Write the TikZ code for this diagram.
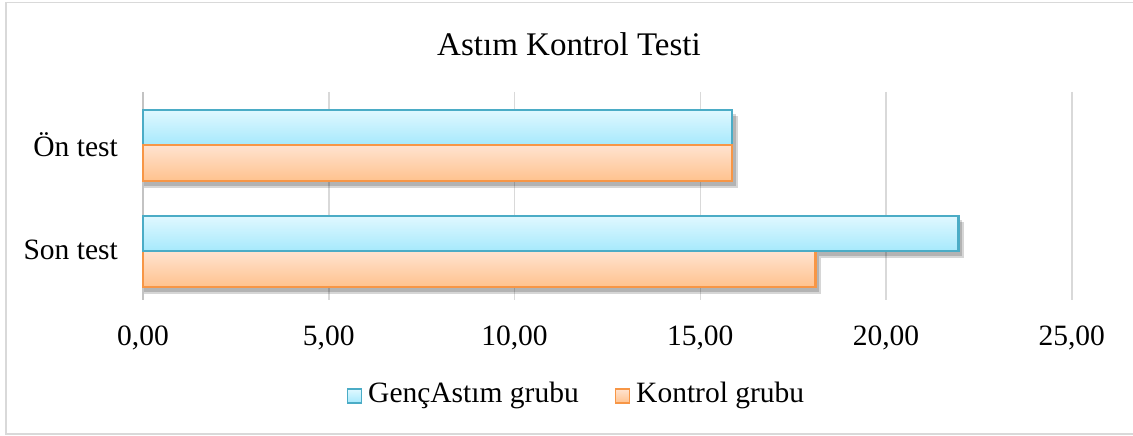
\documentclass[tikz,border=0pt]{standalone}
\usepackage{fontspec}
\setmainfont{Liberation Serif}
\definecolor{cyanedge}{HTML}{4BACC6}
\definecolor{cyantop}{HTML}{E0F8FF}
\definecolor{cyanbot}{HTML}{A6E9FC}
\definecolor{orangeedge}{HTML}{F79646}
\definecolor{orangetop}{HTML}{FFE3D0}
\definecolor{orangebot}{HTML}{FFC28E}
\definecolor{gridgray}{HTML}{D9D9D9}
\tikzset{
  lbl/.style={font=\fontsize{29.5}{34}\selectfont, text=black, inner sep=0pt},
  titlelbl/.style={font=\fontsize{33}{38}\selectfont, text=black, inner sep=0pt},
  gridline/.style={draw=gridgray, line width=1.5pt},
  cyanbar/.style={draw=cyanedge, line width=2.6pt, top color=cyantop, bottom color=cyanbot},
  orangebar/.style={draw=orangeedge, line width=2.6pt, top color=orangetop, bottom color=orangebot},
  shade/.style={fill=black, opacity=0.16},
  cyankey/.style={draw=cyanedge, line width=1.5pt, top color=cyantop, bottom color=cyanbot, minimum size=14pt, inner sep=0pt},
  orangekey/.style={draw=orangeedge, line width=1.5pt, top color=orangetop, bottom color=orangebot, minimum size=14pt, inner sep=0pt},
}
\begin{document}
\begin{tikzpicture}[x=1pt, y=-1pt]
  % canvas and outer frame
  \useasboundingbox (0,0) rectangle (1133,436);
  \fill[white] (0,0) rectangle (1133,436);
  \draw[draw=gridgray, line width=1.5pt] (6,2.5) rectangle (1134,434);

  % horizontal value scale: 0 at x=143, 37.15 per unit
  \def\ox{143}
  \def\ux{37.15}

  % vertical grid lines
  \foreach \v in {5,10,15,20,25}{
    \draw[gridline] ({\ox+\v*\ux},92) -- ({\ox+\v*\ux},300);
  }
  \draw[draw=gridgray!90!black, line width=2.5pt] (\ox,92) -- (\ox,300);

  % soft shadows under the bars
  \fill[shade] ({\ox+1},114) rectangle ({\ox+15.85*\ux+4},186);
  \fill[shade] ({\ox+1},220) rectangle ({\ox+21.95*\ux+4},256);
  \fill[shade] ({\ox+1},256) rectangle ({\ox+18.10*\ux+4},292);
  \fill[shade] ({\ox+1},116) rectangle ({\ox+15.85*\ux+6},188);
  \fill[shade] ({\ox+1},222) rectangle ({\ox+21.95*\ux+6},258);
  \fill[shade] ({\ox+1},258) rectangle ({\ox+18.10*\ux+6},294);

  % bars (Ön test)
  \draw[cyanbar]   (\ox,110) rectangle ({\ox+15.85*\ux},145);
  \draw[orangebar] (\ox,145) rectangle ({\ox+15.85*\ux},181);
  % bars (Son test)
  \draw[orangebar] (\ox,251) rectangle ({\ox+18.10*\ux},287);
  \draw[cyanbar]   (\ox,216) rectangle ({\ox+21.95*\ux},251);

  % title
  \node[titlelbl] (title) at (569,44) {Astım Kontrol Testi};

  % category labels
  \node[lbl, anchor=east] (cat1) at (118,145) {Ön test};
  \node[lbl, anchor=east] (cat2) at (118,250) {Son test};

  % tick labels
  \foreach \v/\t in {0/{0,00},5/{5,00},10/{10,00},15/{15,00},20/{20,00},25/{25,00}}{
    \node[lbl] (tick\v) at ({\ox+\v*\ux},338) {\t};
  }

  % legend
  \node[cyankey] (key1) at (354.5,396) {};
  \node[lbl, anchor=west] (leg1) at (368,395) {GençAstım grubu};
  \node[orangekey] (key2) at (622.5,396) {};
  \node[lbl, anchor=west] (leg2) at (636,395) {Kontrol grubu};
\end{tikzpicture}
\end{document}
